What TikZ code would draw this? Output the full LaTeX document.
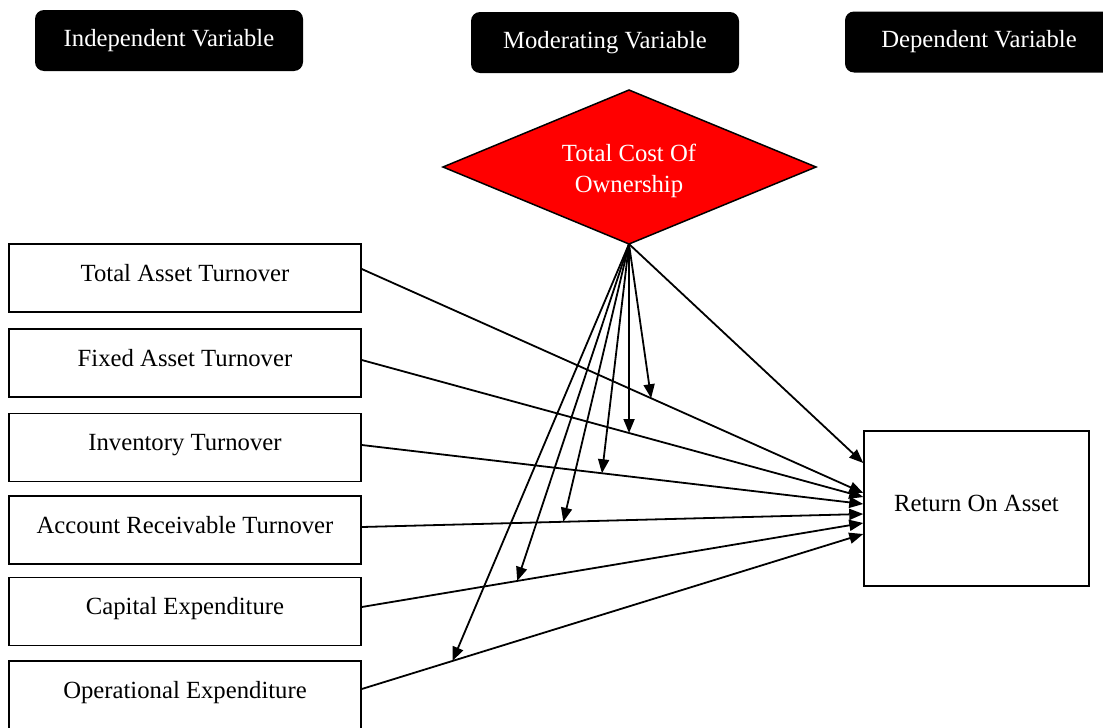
\documentclass[tikz,border=0pt]{standalone}
\usepackage{fontspec}
\setmainfont{Liberation Serif}
\newfontfamily\tnr{Liberation Serif}
\usetikzlibrary{arrows.meta}
\begin{document}
\begin{tikzpicture}[x=1pt,y=-1pt,
  txt/.style={font=\tnr\fontsize{24.7}{31}\selectfont},
  hdr/.style={txt,fill=black,rounded corners=9pt,text=white,minimum width=268pt,minimum height=61pt,inner sep=0pt,text height=17pt,text depth=6pt},
  var/.style={txt,draw=black,line width=1.5pt,minimum width=352pt,minimum height=68pt,inner sep=0pt,text height=17pt,text depth=11pt},
  conn/.style={line width=1.8pt,-{Triangle[length=14pt,width=11pt]}},
]
\useasboundingbox (0,0) rectangle (1103,728);
\clip (0,0) rectangle (1103,728);
% headers
\node[hdr] (iv) at (169,40.5) {Independent Variable};
\node[hdr] (mv) at (605,42.5) {Moderating Variable};
\node[hdr] (dv) at (979,42) {Dependent Variable};
% moderator
\draw[line width=1.5pt,fill=red,line join=miter] (629,90) -- (816,167) -- (629,244) -- (443,167) -- cycle;
\node[txt,text=white,align=center,inner sep=0pt] (tco) at (629,171) {Total Cost Of\\Ownership};
\coordinate (tcos) at (629,244);
% independent variables
\node[var] (tat) at (185,278) {Total Asset Turnover};
\node[var] (fat) at (185,363) {Fixed Asset Turnover};
\node[var] (inv) at (185,447.5) {Inventory Turnover};
\node[var] (art) at (185,530) {Account Receivable Turnover};
\node[var] (cap) at (185,611.5) {Capital Expenditure};
\node[var] (opx) at (185,695) {Operational Expenditure};
% dependent variable
\node[txt,draw=black,line width=1.5pt,minimum width=225pt,minimum height=155pt,inner sep=0pt,text height=17pt,text depth=12pt] (roa) at (976.5,508.5) {Return On Asset};
% connectors
\draw[conn] ([yshift=9pt]tat.east) -- coordinate[pos=0.577] (m1) ([yshift=15.5pt]roa.west);
\draw[conn] ([yshift=3pt]fat.east) -- coordinate[pos=0.533] (m2) ([yshift=11.5pt]roa.west);
\draw[conn] ([yshift=2.5pt]inv.east) -- coordinate[pos=0.479] (m3) ([yshift=4.5pt]roa.west);
\draw[conn] ([yshift=3pt]art.east) -- coordinate[pos=0.402] (m4) ([yshift=-5.5pt]roa.west);
\draw[conn] ([yshift=4.5pt]cap.east) -- coordinate[pos=0.31] (m5) ([yshift=-14.5pt]roa.west);
\draw[conn] ([yshift=6pt]opx.east) -- coordinate[pos=0.181] (m6) ([yshift=-25.5pt]roa.west);
\draw[conn] (tcos) -- ([yshift=45.5pt]roa.west);
\foreach \m in {m1,m2,m3,m4,m5,m6}
  \draw[conn] (tcos) -- (\m);
\end{tikzpicture}
\end{document}
